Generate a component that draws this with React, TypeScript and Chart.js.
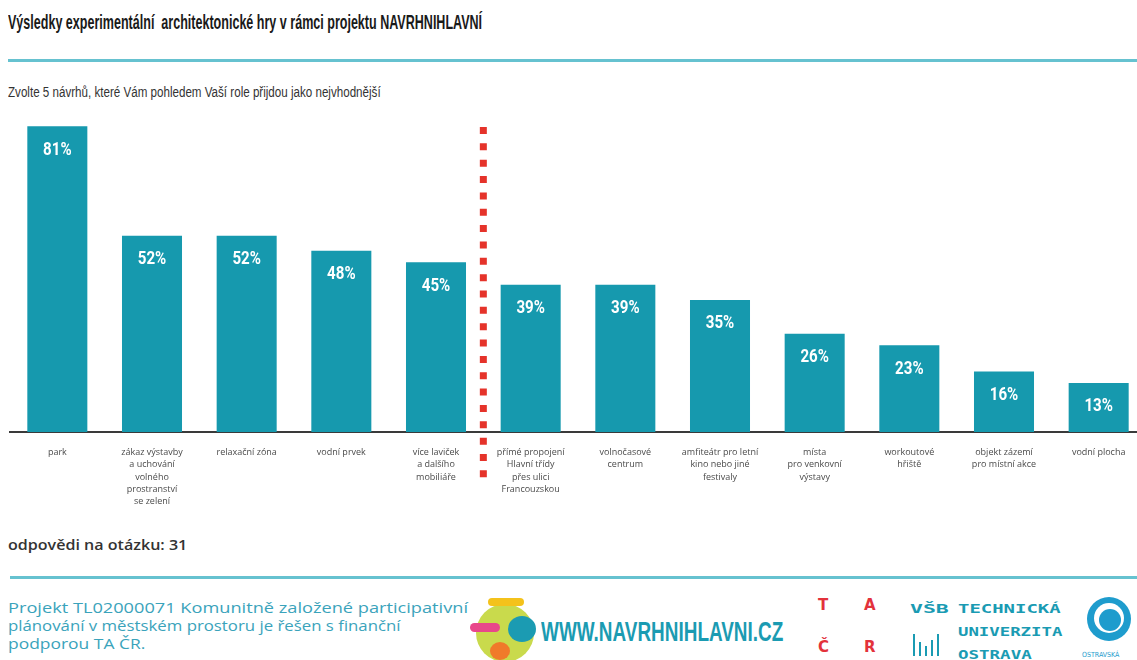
import React, { useEffect, useLayoutEffect, useRef } from 'react';
import { Chart, registerables } from 'chart.js';

Chart.register(...registerables);

// ---- data ----
const categories: string[][] = [
  ['park'],
  ['zákaz výstavby', 'a uchování', 'volného', 'prostranství', 'se zelení'],
  ['relaxační zóna'],
  ['vodní prvek'],
  ['více laviček', 'a dalšího', 'mobiliáře'],
  ['přímé propojení', 'Hlavní třídy', 'přes ulici', 'Francouzskou'],
  ['volnočasové', 'centrum'],
  ['amfiteátr pro letní', 'kino nebo jiné', 'festivaly'],
  ['místa', 'pro venkovní', 'výstavy'],
  ['workoutové', 'hřiště'],
  ['objekt zázemí', 'pro místní akce'],
  ['vodní plocha'],
];
const values: number[] = [81, 52, 52, 48, 45, 39, 39, 35, 26, 23, 16, 13];
const valueLabels: string[] = values.map((v) => v + '%');
const dividerAfterIndex = 4; // red dotted line between top-5 and the rest
const respondents = 31;

const title = 'Výsledky experimentální  architektonické hry v rámci projektu NAVRHNIHLAVNÍ';
const subtitle = 'Zvolte 5 návrhů, které Vám pohledem Vaší role přijdou jako nejvhodnější';
const footerLines: string[] = [
  'Projekt TL02000071 Komunitně založené participativní',
  'plánování v městském prostoru je řešen s finanční',
  'podporou TA ČR.',
];

const TEAL = '#1699ae';
const RED = '#e5332a';

type FitProps = { text: string; width: number; left: number; top: number; style?: React.CSSProperties };

function FitText({ text, width, left, top, style }: FitProps) {
  const ref = useRef<HTMLSpanElement>(null);
  useLayoutEffect(() => {
    const el = ref.current;
    if (!el) return;
    el.style.transform = 'none';
    const w = el.offsetWidth;
    if (w > 0) el.style.transform = `scaleX(${width / w})`;
  }, [text, width]);
  return (
    <span
      ref={ref}
      style={{
        position: 'absolute',
        left,
        top,
        whiteSpace: 'pre',
        display: 'inline-block',
        transformOrigin: '0 0',
        lineHeight: 1,
        ...style,
      }}
    >
      {text}
    </span>
  );
}

const overlayPlugin = {
  id: 'overlay',
  afterDatasetsDraw(chart: any) {
    const ctx = chart.ctx as CanvasRenderingContext2D;
    const meta = chart.getDatasetMeta(0);
    ctx.save();
    ctx.fillStyle = '#ffffff';
    ctx.font = "bold 18px Roboto, 'DejaVu Sans', sans-serif";
    ctx.textAlign = 'center';
    ctx.textBaseline = 'middle';
    meta.data.forEach((bar: any, i: number) => {
      ctx.save();
      ctx.translate(bar.x, bar.y + 24);
      ctx.scale(0.84, 1);
      ctx.fillText(valueLabels[i], 0, 0);
      ctx.restore();
    });
    const x = chart.scales.x.getPixelForValue(dividerAfterIndex + 0.5);
    ctx.strokeStyle = RED;
    ctx.lineWidth = 7;
    ctx.lineCap = 'butt';
    ctx.setLineDash([7, 9.35]);
    ctx.beginPath();
    ctx.moveTo(x, chart.chartArea.top + 17);
    ctx.lineTo(x, chart.chartArea.bottom + 46);
    ctx.stroke();
    ctx.restore();
  },
};

function BarChart() {
  const canvasRef = useRef<HTMLCanvasElement>(null);
  useEffect(() => {
    const canvas = canvasRef.current;
    if (!canvas) return;
    const chart = new Chart(canvas, {
      type: 'bar',
      data: {
        labels: categories as any,
        datasets: [
          {
            data: values,
            backgroundColor: TEAL,
            borderWidth: 0,
            barPercentage: 0.634,
            categoryPercentage: 1,
          },
        ],
      },
      options: {
        animation: false,
        responsive: false,
        maintainAspectRatio: false,
        layout: { padding: { left: 10, top: 10, right: 0, bottom: 0 } },
        plugins: { legend: { display: false }, tooltip: { enabled: false } },
        scales: {
          x: {
            grid: { display: false, drawTicks: false },
            border: { display: true, color: '#3a3a3a', width: 2 },
            ticks: {
              autoSkip: false,
              maxRotation: 0,
              minRotation: 0,
              padding: 14,
              color: '#4a4a4a',
              font: { family: "'Open Sans', sans-serif", size: 9, lineHeight: 1.38 },
            },
            afterFit: (scale: any) => {
              scale.height = 80;
            },
          },
          y: {
            display: false,
            min: 0,
            max: 85.3,
          },
        },
      },
      plugins: [overlayPlugin],
    });
    return () => chart.destroy();
  }, []);
  return (
    <canvas
      ref={canvasRef}
      width={1146}
      height={412}
      style={{ position: 'absolute', left: 0, top: 100, width: 1146, height: 412 }}
    />
  );
}

export default function App() {
  return (
    <div
      style={{
        position: 'absolute',
        left: 0,
        top: 0,
        width: 1137,
        height: 660,
        overflow: 'hidden',
        background: '#fff',
        fontFamily: "'Open Sans', sans-serif",
      }}
    >
      <FitText
        text={title}
        width={474}
        left={8}
        top={12}
        style={{ fontFamily: "'Liberation Sans Narrow', 'Liberation Sans', sans-serif", fontWeight: 700, fontSize: 20, color: '#1a1a1a' }}
      />
      <div style={{ position: 'absolute', left: 8, top: 59, width: 1129, height: 3, background: '#66c2d0' }} />
      <FitText
        text={subtitle}
        width={373}
        left={8}
        top={85}
        style={{ fontFamily: "'Liberation Sans Narrow', 'Liberation Sans', sans-serif", fontSize: 14, color: '#333' }}
      />

      <BarChart />

      <FitText
        text={'odpovědi na otázku: ' + respondents}
        width={179}
        left={8}
        top={538}
        style={{ fontFamily: "'Open Sans', sans-serif", fontWeight: 600, fontSize: 14, color: '#333' }}
      />
      <div style={{ position: 'absolute', left: 10, top: 576, width: 1127, height: 3, background: '#66c2d0' }} />

      {footerLines.map((line, i) => (
        <FitText
          key={i}
          text={line}
          width={[460, 392, 137][i]}
          left={8}
          top={601 + i * 18}
          style={{ fontFamily: "'Open Sans', sans-serif", fontSize: 14, color: '#3aa3bb' }}
        />
      ))}

      {/* NAVRHNIHLAVNI logo blob */}
      <div style={{ position: 'absolute', left: 476, top: 604, width: 58, height: 58, borderRadius: '50%', background: '#c9da4c' }} />
      <div style={{ position: 'absolute', left: 470, top: 623, width: 30, height: 9, borderRadius: 5, background: '#e8488a' }} />
      <div style={{ position: 'absolute', left: 508, top: 616, width: 28, height: 26, borderRadius: '50%', background: '#1b9bb2' }} />
      <div style={{ position: 'absolute', left: 490, top: 642, width: 20, height: 18, borderRadius: '50%', background: '#f07a2a' }} />
      <div style={{ position: 'absolute', left: 488, top: 598, width: 36, height: 8, borderRadius: 4, background: '#f4c21b' }} />
      <FitText
        text="WWW.NAVRHNIHLAVNI.CZ"
        width={242}
        left={541}
        top={619}
        style={{ fontFamily: "'Liberation Sans Narrow', sans-serif", fontWeight: 700, fontSize: 27, color: '#1b9bb2' }}
      />

      {/* TA ČR */}
      {[
        ['T', 818, 598],
        ['A', 864, 598],
        ['Č', 818, 640],
        ['R', 864, 640],
      ].map(([t, x, y]) => (
        <span
          key={t as string}
          style={{
            position: 'absolute',
            left: x as number,
            top: y as number,
            fontFamily: "'DejaVu Sans', sans-serif",
            fontWeight: 700,
            fontSize: 15,
            lineHeight: 1,
            color: '#e3323b',
          }}
        >
          {t}
        </span>
      ))}

      {/* VŠB logo */}
      <FitText text="VŠB" width={38} left={910} top={602} style={{ fontFamily: "'DejaVu Sans Mono', monospace", fontWeight: 700, fontSize: 13, color: '#1a9bb3' }} />
      <FitText text="TECHNICKÁ" width={102} left={958} top={602} style={{ fontFamily: "'DejaVu Sans Mono', monospace", fontWeight: 700, fontSize: 13, color: '#1a9bb3' }} />
      <FitText text="UNIVERZITA" width={104} left={958} top={625} style={{ fontFamily: "'DejaVu Sans Mono', monospace", fontWeight: 700, fontSize: 13, color: '#1a9bb3' }} />
      <FitText text="OSTRAVA" width={74} left={958} top={648} style={{ fontFamily: "'DejaVu Sans Mono', monospace", fontWeight: 700, fontSize: 13, color: '#1a9bb3' }} />
      {[
        [913, 634, 22],
        [919, 642, 14],
        [925, 646, 10],
        [931, 640, 16],
        [937, 634, 22],
      ].map(([x, y, h], i) => (
        <div key={i} style={{ position: 'absolute', left: x, top: y, width: 2, height: h, background: '#1a9bb3' }} />
      ))}

      {/* Ostrava logo */}
      <div style={{ position: 'absolute', left: 1087, top: 597, width: 44, height: 44, borderRadius: '50%', background: '#1e9ccd' }} />
      <div style={{ position: 'absolute', left: 1094, top: 603, width: 30, height: 30, borderRadius: '50%', background: '#ffffff' }} />
      <div style={{ position: 'absolute', left: 1099, top: 609, width: 22, height: 22, borderRadius: '50%', background: '#1e9ccd' }} />
      <span
        style={{
          position: 'absolute',
          left: 1082,
          top: 652,
          fontFamily: "'DejaVu Sans Condensed', 'DejaVu Sans', sans-serif",
          fontSize: 7,
          lineHeight: 1,
          color: '#1e9ccd',
        }}
      >
        OSTRAVSKÁ
      </span>
    </div>
  );
}
